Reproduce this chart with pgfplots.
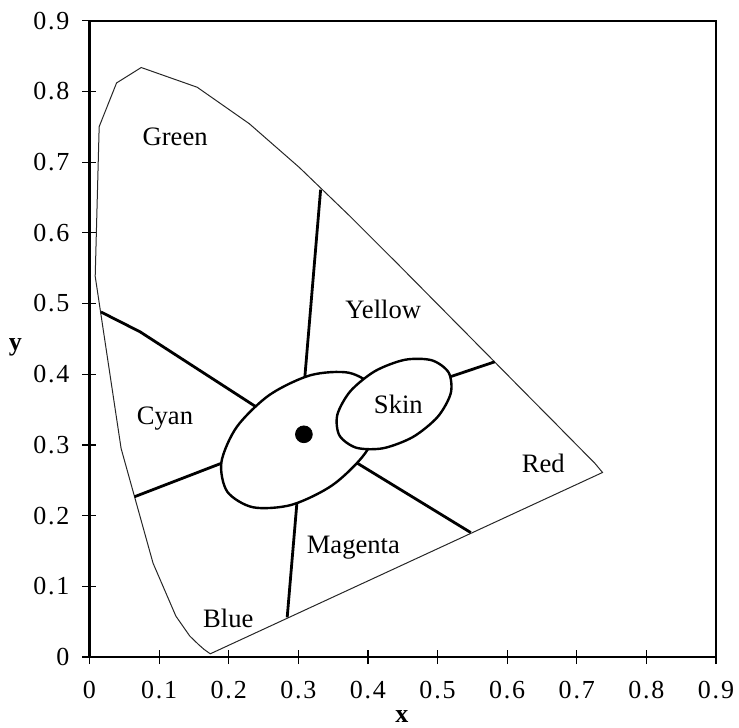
\documentclass[border=0pt]{standalone}
\usepackage{fontspec}
\setmainfont{Liberation Serif}
\newfontfamily\tickfont[LetterSpace=7]{Liberation Serif}
\usepackage{pgfplots}
\pgfplotsset{compat=1.18}
\begin{document}
\begin{tikzpicture}
\begin{axis}[
  name=ax,
  scale only axis,
  width=313.25pt, height=318.15pt,
  xmin=0, xmax=0.9, ymin=0, ymax=0.9,
  xtick={0,0.1,...,0.9}, ytick={0,0.1,...,0.9},
  xticklabels={0,0.1,0.2,0.3,0.4,0.5,0.6,0.7,0.8,0.9},
  yticklabels={0,0.1,0.2,0.3,0.4,0.5,0.6,0.7,0.8,0.9},
  xtick pos=left, ytick pos=left,
  tick align=center,
  major tick length=7pt,
  tick style={black, line width=0.6pt},
  axis line style={line width=1.2pt},
  /pgf/number format/assume math mode=true,
  ticklabel style={font=\tickfont\fontsize{13}{15}\selectfont},
  xticklabel style={anchor=center, yshift=-13pt},
  yticklabel style={anchor=east, xshift=-3pt},
  xlabel={\textbf{x}},
  ylabel={\textbf{y}},
  label style={font=\fontsize{13}{15}\selectfont},
  xlabel style={at={(rel axis cs:0.4985,0)}, anchor=center, yshift=-30pt},
  ylabel style={rotate=-90, at={(rel axis cs:0,0.487)}, anchor=center, xshift=-37pt},
  clip=false,
]
% spectral locus and purple line
\addplot[black!85, line width=0.5pt] coordinates {
(0.1735,0.0045) (0.1644,0.0109) (0.1566,0.0177) (0.1440,0.0297) (0.1241,0.0578)
(0.0913,0.1327) (0.0454,0.2950) (0.0082,0.5384) (0.0139,0.7502) (0.0389,0.8120)
(0.0743,0.8338) (0.1547,0.8059) (0.2296,0.7543) (0.3016,0.6923) (0.3731,0.6245)
(0.4441,0.5547) (0.5125,0.4866) (0.5752,0.4242) (0.6270,0.3725) (0.6658,0.3340)
(0.6915,0.3083) (0.7079,0.2920) (0.7190,0.2809) (0.7260,0.2740) (0.7370,0.2610)
(0.1735,0.0045)};
% region dividers
\addplot[black, line width=1.4pt] coordinates {(0.3080,0.380) (0.332,0.661)};
\addplot[black, line width=1.4pt] coordinates {(0.0165,0.488) (0.0726,0.460) (0.250,0.347)};
\addplot[black, line width=1.4pt] coordinates {(0.0647,0.2267) (0.200,0.278)};
\addplot[black, line width=1.4pt] coordinates {(0.284,0.056) (0.299,0.230)};
\addplot[black, line width=1.4pt] coordinates {(0.5477,0.176) (0.375,0.280)};
\addplot[black, line width=1.4pt] coordinates {(0.505,0.392) (0.582,0.4175)};
% central ellipse
\addplot[black, line width=1.2pt, fill=white, smooth cycle] coordinates {
(0.4098,0.3800) (0.3729,0.4020) (0.3176,0.3986) (0.2586,0.3707) (0.2117,0.3256)
(0.1895,0.2756) (0.1979,0.2339) (0.2348,0.2118) (0.2902,0.2152) (0.3492,0.2432)
(0.3961,0.2883) (0.4183,0.3383)};
% skin ellipse
\addplot[black, line width=1.2pt, fill=white, smooth cycle] coordinates {
(0.5159,0.4024) (0.4917,0.4197) (0.4531,0.4204) (0.4102,0.4044) (0.3747,0.3759)
(0.3560,0.3425) (0.3591,0.3133) (0.3833,0.2960) (0.4219,0.2953) (0.4648,0.3113)
(0.5003,0.3398) (0.5190,0.3732)};
% white point
\addplot[only marks, mark=*, mark size=4.2pt, black] coordinates {(0.308,0.315)};
% labels
\begin{scope}[every node/.style={font=\fontsize{13.3}{15}\selectfont, anchor=center}]
\node at (axis cs:0.123,0.736) {Green};
\node at (axis cs:0.422,0.491) {Yellow};
\node at (axis cs:0.1085,0.3376) {Cyan};
\node at (axis cs:0.4437,0.358) {Skin};
\node at (axis cs:0.652,0.274) {Red};
\node at (axis cs:0.379,0.154) {Magenta};
\node at (axis cs:0.1994,0.0547) {Blue};
\end{scope}
\end{axis}
\pgfresetboundingbox
\useasboundingbox ([shift={(-44.75pt,-35.5pt)}]ax.south west) rectangle ([shift={(324.75pt,328.5pt)}]ax.south west);
\end{tikzpicture}
\end{document}
